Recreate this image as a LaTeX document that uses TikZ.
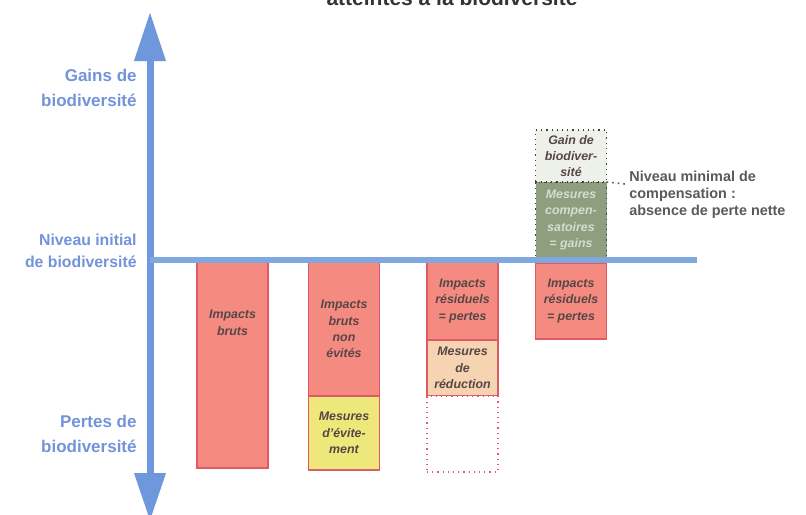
\documentclass[tikz,border=0pt]{standalone}
\usepackage{fontspec}
\setmainfont{Liberation Sans}
\usetikzlibrary{arrows.meta,positioning}

\definecolor{axisblue}{HTML}{6F97DC}
\definecolor{lineblue}{HTML}{7FA8DE}
\definecolor{labelblue}{HTML}{7393DA}
\definecolor{lossred}{HTML}{F58B80}
\definecolor{lossedge}{HTML}{DD5A66}
\definecolor{avoidyellow}{HTML}{EEE77A}
\definecolor{reducepeach}{HTML}{F6D4B2}
\definecolor{offsetgreen}{HTML}{8F9E7F}
\definecolor{gainwhite}{HTML}{EEF1EA}
\definecolor{notegray}{HTML}{5A5A5A}
\definecolor{boxtextgray}{HTML}{574647}

\tikzset{
  boxtext/.style={inner sep=0pt, align=center, text=boxtextgray,
    font=\fontsize{6.2}{8.2}\selectfont\bfseries\itshape},
  bar/.style={boxtext, line width=0.6pt, outer sep=0pt,
    minimum width=35.5pt, anchor=north},
  loss/.style={bar, draw=lossedge, fill=lossred},
  avoided/.style={bar, draw=lossedge, fill=avoidyellow},
  reduced/.style={bar, draw=lossedge, fill=reducepeach},
  emptybar/.style={bar, draw=lossedge, dotted, fill=white},
  offset/.style={bar, draw=darkgray, dotted, fill=offsetgreen, text=gainwhite!75!offsetgreen},
  netgain/.style={bar, draw=darkgray, dotted, fill=gainwhite},
  axislabel/.style={inner sep=0pt, align=right, text=labelblue, anchor=east},
  levelline/.style={lineblue, line width=3pt},
  axis/.style={axisblue, line width=3.5pt}
}

\begin{document}
\begin{tikzpicture}[x=0.5pt, y=-0.5pt]
  \useasboundingbox[fill=white] (0,0) rectangle (806,514);

  % title, cut at the top
  \node[anchor=base, inner sep=0pt, text=black!80, font=\fontsize{10.5}{12}\selectfont\bfseries]
    (title) at (452,5) {atteintes à la biodiversité};

  % vertical axis
  \coordinate (axtop) at (150,12);
  \coordinate (axbot) at (150,521);
  \draw[axis, {Triangle[length=24.5pt,width=15pt]}-{Triangle[length=24pt,width=15pt]}]
    (axtop) -- (axbot);

  \node[axislabel, font=\fontsize{8.5}{12.5}\selectfont\bfseries] (gains) at (137,88)
    {Gains de\\biodiversité};
  \node[axislabel, font=\fontsize{7.9}{11}\selectfont\bfseries] (initial) at (137,251)
    {Niveau initial\\de biodiversité};
  \node[axislabel, font=\fontsize{8.5}{12.5}\selectfont\bfseries] (losses) at (137,434)
    {Pertes de\\biodiversité};

  % bar 1
  \node[loss, minimum height=103pt] (bar1) at (232.5,262) {};
  \node[boxtext, below=24pt of bar1.north] (bar1text) {Impacts\\bruts};

  % bar 2
  \node[loss, minimum height=67pt] (red2) at (344,262) {Impacts\\bruts\\non\\évités};
  \node[avoided, minimum height=37pt, below=0pt of red2] (avoid2) {Mesures\\d'évite-\\ment};

  % bar 3
  \node[loss, minimum height=39pt] (red3) at (462.5,262) {Impacts\\résiduels\\= pertes};
  \node[reduced, minimum height=28pt, below=0pt of red3] (reduce3) {Mesures\\de\\réduction};
  \node[emptybar, minimum height=38pt, below=0pt of reduce3] (empty3) {};

  % bar 4
  \node[loss, minimum height=38pt] (red4) at (571,263) {Impacts\\résiduels\\= pertes};
  \node[offset, minimum height=38pt, anchor=south] (offset4) at (571,258)
    {Mesures\\compen-\\satoires\\= gains};
  \node[netgain, minimum height=26pt, above=0pt of offset4] (gain) {Gain de\\biodiver-\\sité};

  % initial level
  \coordinate (level0) at (150,260);
  \coordinate (level1) at (697,260);
  \draw[levelline] (level0) -- (level1);

  % note
  \node[anchor=north west, inner sep=0pt, align=left, text=notegray,
        font=\fontsize{7.2}{8.5}\selectfont\bfseries] (note) at (629,171)
    {Niveau minimal de\\compensation :\\absence de perte nette};
  \coordinate (notetip) at (625,184);
  \draw[notegray, dotted, line width=0.8pt] (gain.south east) -- (notetip);
\end{tikzpicture}
\end{document}
